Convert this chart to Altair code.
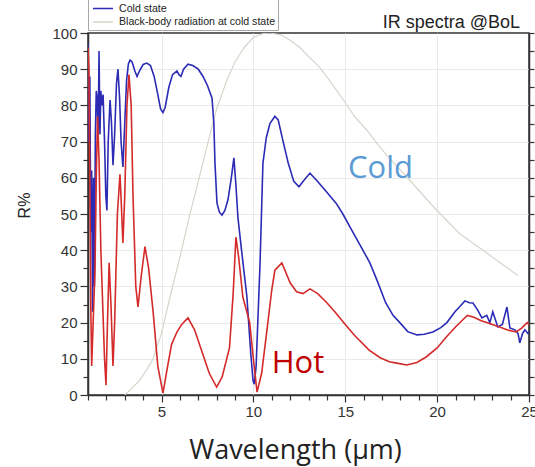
import altair as alt
import pandas as pd

# ---------------- data ----------------
cold_wl = [1.00, 1.05, 1.10, 1.15, 1.20, 1.25, 1.30, 1.35, 1.40, 1.45, 1.50, 1.55, 1.60, 1.65,
           1.70, 1.75, 1.82, 1.90, 1.97, 2.03, 2.10, 2.20, 2.28, 2.36, 2.45, 2.55, 2.63, 2.72,
           2.80, 2.90, 3.00, 3.10, 3.20, 3.29, 3.40, 3.55, 3.67, 3.80, 4.00, 4.20, 4.40, 4.60,
           4.80, 4.95, 5.08, 5.20, 5.40, 5.60, 5.84, 5.95, 6.06, 6.20, 6.44, 6.70, 7.00, 7.26,
           7.50, 7.75, 7.85, 7.91, 8.02, 8.15, 8.29, 8.45, 8.62, 8.80, 8.94, 9.05, 9.16, 9.40,
           9.65, 9.85, 9.98, 10.05, 10.15, 10.36, 10.52, 10.70, 10.90, 11.17, 11.35, 11.60,
           11.90, 12.20, 12.48, 12.70, 13.08, 13.50, 14.00, 14.50, 14.87, 15.30, 15.80, 16.34,
           16.72, 17.20, 17.60, 17.97, 18.40, 18.90, 19.30, 19.77, 20.20, 20.53, 20.97, 21.25,
           21.51, 21.75, 21.95, 22.20, 22.44, 22.70, 22.87, 23.03, 23.30, 23.55, 23.80, 23.96,
           24.23, 24.40, 24.50, 24.65, 24.78, 24.94, 25.00]
cold_r = [97, 70, 88, 45, 62, 23, 60, 30, 72, 84, 82, 70, 95, 72,
          84, 80, 83, 70, 55, 51, 70, 81.5, 75, 63.5, 72, 86, 90, 82,
          70, 63, 75, 87, 91.5, 92.5, 92, 89.5, 88, 89.5, 91.3, 91.7, 91, 88,
          83, 79, 78, 79.5, 85, 88.5, 89.5, 88.5, 88, 90, 91.4, 91, 90, 88,
          85.5, 82, 75, 64, 53, 50.5, 49.7, 51, 54, 60, 65.5, 58, 49, 38,
          27, 12, 4, 3, 8, 36, 64, 71, 75, 77, 76, 70.4,
          64, 59, 57.5, 59, 61.3, 59, 56, 53, 50, 46, 41.5, 36.5,
          31.8, 25.5, 22, 20, 17.5, 16.6, 16.8, 17.4, 18.6, 20, 23, 24.5,
          26, 25.5, 25.4, 23.5, 21.3, 22, 20, 23, 18.8, 19.5, 24.3, 18.5,
          18, 17, 14.4, 17, 18, 17, 17.5]

hot_wl = [1.00, 1.05, 1.10, 1.15, 1.20, 1.28, 1.38, 1.45, 1.52, 1.60, 1.70, 1.80, 1.90, 1.98,
          2.06, 2.15, 2.25, 2.36, 2.45, 2.60, 2.74, 2.82, 2.90, 3.00, 3.12, 3.23, 3.35, 3.45,
          3.60, 3.72, 3.90, 4.10, 4.30, 4.55, 4.80, 5.08, 5.30, 5.55, 5.84, 6.10, 6.44, 6.80,
          7.20, 7.60, 8.00, 8.30, 8.70, 8.90, 9.05, 9.20, 9.43, 9.80, 10.00, 10.20, 10.45,
          10.74, 11.00, 11.17, 11.55, 12.00, 12.35, 12.70, 13.08, 13.50, 14.00, 14.50, 15.00,
          15.50, 16.30, 16.90, 17.40, 17.80, 18.35, 18.90, 19.40, 20.00, 20.50, 21.00, 21.40,
          21.65, 22.00, 22.40, 22.70, 23.00, 23.40, 23.80, 24.30, 24.60, 24.90, 25.00]
hot_r = [96, 90, 60, 25, 8, 20, 34.5, 60, 77, 65, 40, 25, 10, 2.7,
         20, 36.5, 25, 8, 20, 50, 61, 52, 42, 55, 80, 88.5, 80, 55,
         30, 24.3, 33, 41, 35, 22.6, 8, 0.5, 7, 14, 17.4, 19.5, 21.3, 18,
         12, 6, 2.2, 5, 13, 28, 43.6, 38, 27, 20, 10, 0.8, 6,
         18, 29, 34.5, 36.5, 31, 28.5, 28, 29.3, 28, 25.5, 22.6, 19.5,
         16.5, 12.4, 10.3, 9.2, 8.8, 8.3, 9.0, 10.5, 13, 16, 18.8, 20.8,
         22, 21.5, 20.5, 20, 19.5, 18.8, 18, 17.4, 18.5, 20, 19.5]

bb_wl = [3.0, 3.3, 3.8, 4.2, 4.54, 5.0, 5.46, 6.0, 6.5, 7.0, 7.64, 8.0, 8.56, 9.0, 9.5,
         10.0, 10.5, 10.9, 11.5, 12.0, 12.53, 13.0, 13.6, 14.2, 14.9, 15.5, 16.2, 16.8,
         17.3, 18.5, 19.8, 21.2, 22.7, 24.4]
bb_r = [0, 1.4, 4, 7, 10, 17, 27, 38, 49, 59, 72, 79, 87, 92, 96,
        98.8, 99.8, 100, 99.5, 98, 96, 93.5, 90.6, 86.5, 81.5, 77, 73, 69,
        66, 59.4, 52, 44.7, 39.2, 33]

series_names = ["Hot state", "Cold state", "Black-body radiation at cold state"]
series_colors = ["#D42A2A", "#2B2BB5", "#D6D6CC"]

x_ticks = list(range(1, 26))
y_ticks = list(range(0, 101, 5))

cold_df = pd.DataFrame({"wl": cold_wl, "R": cold_r, "s": series_names[1]})
hot_df = pd.DataFrame({"wl": hot_wl, "R": hot_r, "s": series_names[0]})
bb_df = pd.DataFrame({"wl": bb_wl, "R": bb_r, "s": series_names[2]})
cold_lab = pd.DataFrame({"wl": [15.15], "R": [59.9], "t": ["Cold"]})
hot_lab = pd.DataFrame({"wl": [11.0], "R": [6.0], "t": ["Hot"]})

# ---------------- encodings ----------------
x_enc = alt.X(
    "wl:Q",
    scale=alt.Scale(domain=[1, 25], nice=False, zero=False),
    axis=alt.Axis(
        values=x_ticks,
        labelExpr="datum.value % 5 == 0 ? datum.label : ''",
        tickSize={"condition": {"test": "datum.value % 5 == 0", "value": 7}, "value": 5},
        gridOpacity={"condition": {"test": "datum.value % 5 == 0 && datum.value < 25", "value": 1}, "value": 0},
        title="Wavelength (µm)",
        titleFont="Open Sans", titleFontSize=27, titleFontWeight="normal", titleColor="#222",
        titleX=207, titleY=63, titleBaseline="alphabetic",
        labelFont="Liberation Sans", labelFontSize=15, labelColor="#333", labelPadding=2,
        labelFlush=False,
    ),
)
y_scale = alt.Scale(domain=[0, 100], nice=False)
y_left = alt.Y(
    "R:Q", scale=y_scale,
    axis=alt.Axis(
        values=y_ticks,
        labelExpr="datum.value % 10 == 0 ? datum.label : ''",
        tickSize={"condition": {"test": "datum.value % 10 == 0", "value": 8}, "value": 5},
        gridOpacity={"condition": {"test": "datum.value % 10 == 0 && datum.value > 0 && datum.value < 100", "value": 1}, "value": 0},
        title="R%",
        titleFont="Liberation Sans", titleFontSize=16, titleFontWeight="normal", titleColor="#222",
        titleX=-64, titleY=172, titleBaseline="middle",
        labelFont="Liberation Sans", labelFontSize=15, labelColor="#333", labelPadding=3,
        labelFlush=False,
    ),
)
y_none = alt.Y("R:Q", scale=y_scale, axis=None)
y_right = alt.Y(
    "R:Q", scale=y_scale,
    axis=alt.Axis(orient="right", values=y_ticks, labels=False, tickSize=5, grid=False,
                  title=None, domainColor="#333", tickColor="#333", domainWidth=1.5),
)

legend = alt.Legend(
    orient="none", legendX=0, legendY=-46, title=None,
    symbolType="stroke", symbolSize=400, symbolStrokeWidth=1.5, symbolOffset=2,
    labelFont="Liberation Sans", labelFontSize=10.6, labelColor="#222", labelOffset=5,
    clipHeight=12, rowPadding=1.5, padding=2,
    strokeColor="#A8A8A8", fillColor="white",
)
color_enc = alt.Color("s:N", scale=alt.Scale(domain=series_names, range=series_colors),
                      legend=legend)

bb = alt.Chart(bb_df).mark_line(strokeWidth=1.2, clip=True).encode(
    x=x_enc, y=y_left, color=color_enc,
)
cold = alt.Chart(cold_df).mark_line(strokeWidth=1.6, clip=True).encode(
    x=x_enc, y=y_none, color=color_enc,
)
hot = alt.Chart(hot_df).mark_line(strokeWidth=1.6, clip=True).encode(
    x=x_enc, y=y_none, color=color_enc,
)
cold_text = alt.Chart(cold_lab).mark_text(
    align="left", baseline="alphabetic", font="Open Sans", fontSize=31, color="#5B9BD5"
).encode(x=x_enc, y=y_right, text="t:N")
hot_text = alt.Chart(hot_lab).mark_text(
    align="left", baseline="alphabetic", font="Open Sans", fontSize=31, color="#C00000"
).encode(x=x_enc, y=y_none, text="t:N")

chart = (
    alt.layer(bb, cold, hot, cold_text, hot_text)
    .resolve_axis(y="independent")
    .properties(
        width=441, height=362,
        autosize=alt.AutoSizeParams(type="none"),
        padding={"left": 88, "top": 33, "right": 6, "bottom": 72},
        title=alt.TitleParams(
            "IR spectra @BoL", anchor="end", frame="group", font="Liberation Sans",
            fontSize=18, fontWeight="normal", color="#222", offset=7, dx=-9, dy=66,
            baseline="alphabetic",
        ),
    )
    .configure_view(stroke="#333", strokeWidth=1.5)
    .configure_axis(domainColor="#333", domainWidth=1.5, tickColor="#333", tickWidth=1.2,
                    gridColor="#EAEAEA", gridWidth=1)
)

chart.save("out.html", embed_options={"renderer": "svg", "actions": False})
